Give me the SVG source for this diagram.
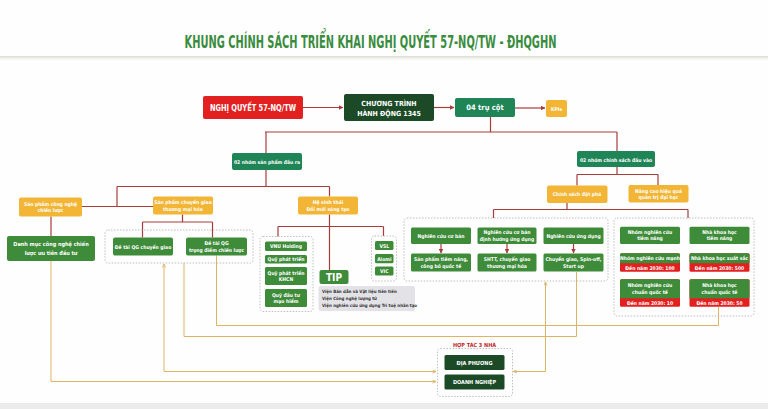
<svg xmlns="http://www.w3.org/2000/svg" width="768" height="409" viewBox="0 0 768 409">
<defs>
<linearGradient id="sep" x1="0" y1="0" x2="0" y2="1"><stop offset="0" stop-color="#d9d8cf"/><stop offset="1" stop-color="#ffffff" stop-opacity="0"/></linearGradient>
<marker id="ar" viewBox="0 0 6 6" refX="5.5" refY="3" markerWidth="4" markerHeight="4" orient="auto-start-reverse"><path d="M0,0 L6,3 L0,6 z" fill="#a63c3c"/></marker>
<marker id="at" viewBox="0 0 6 6" refX="5.5" refY="3" markerWidth="4" markerHeight="4" orient="auto-start-reverse"><path d="M0,0.5 L6,3 L0,5.5" fill="none" stroke="#dcb466" stroke-width="1.2"/></marker>
<style>
text{font-family:"Liberation Sans Narrow","DejaVu Sans Condensed","Liberation Sans",sans-serif;font-weight:bold;text-anchor:middle;fill:#fff}
.r{fill:none;stroke:#a63c3c;stroke-width:1.2}
.y{fill:none;stroke:#dcb466;stroke-width:1}
.org{fill:#f2b535}
.lg{fill:#3e8b3a}
.tg{fill:#1f8557}
.dg{fill:#1c4a27}
.rd{fill:#e2201f}
.dc{fill:none;stroke:#b9b9b9;stroke-width:0.9;stroke-dasharray:1.5 1.5}
.s5{font-size:5px}
.s55{font-size:5.5px}
.gt{fill:#333;text-anchor:start;font-size:4.4px}
</style>
</defs>
<rect width="768" height="409" fill="#fefefe"/>
<rect x="0" y="56" width="768" height="6" fill="url(#sep)"/>
<rect x="0" y="403" width="768" height="6" fill="#ebebeb"/>
<text x="370.5" y="48" font-size="17" textLength="372" lengthAdjust="spacingAndGlyphs" style="fill:#3a8c3f">KHUNG CHÍNH SÁCH TRIỂN KHAI NGHỊ QUYẾT 57-NQ/TW - ĐHQGHN</text>

<g id="connectors">
<path class="r" d="M303,107.5 H343" marker-end="url(#ar)"/>
<path class="r" d="M434,107.5 H454" marker-end="url(#ar)"/>
<path class="r" d="M515,108 H545" marker-end="url(#ar)"/>
<path class="r" d="M490.5,117 V132 M265,132 H617 M266,132 V153 M617,132 V151"/>
<path class="r" d="M266,170 V186.5 M117,186.5 H329.5 M117,186.5 V206.5 M82,206.5 H153 M329.5,186.5 V196.5"/>
<path class="r" d="M51,216.5 V236 M182.5,214.5 V222 M142.5,222 H212.5 M142.5,222 V237.5 M212.5,222 V237.5"/>
<path class="r" d="M329.5,214.5 V270 M278,226.5 H383.5 M278,226.5 V236.5 M383.5,226.5 V236"/>
<path class="r" d="M617,167 V174.5 M577,174.5 H658 M577,174.5 V185.5 M658,174.5 V185"/>
<path class="r" d="M567,203 V209.5 M493.5,209.5 H688 M493.5,209.5 V218 M688,209.5 V218"/>
<path class="r" d="M441,244 V253" marker-end="url(#ar)"/>
<path class="r" d="M507,244 V253" marker-end="url(#ar)"/>
<path class="r" d="M573.5,244 V253" marker-end="url(#ar)"/>
<path class="y" d="M51,261 V381.5 H436" marker-end="url(#at)"/>
<path class="y" d="M164,264 V371.5 H436" marker-start="url(#at)" marker-end="url(#at)"/>
<path class="y" d="M184,263 V336.5 H576.5 V272"/>
<path class="y" d="M216.5,255.5 V325.5 H718.5 V307"/>
<path class="y" d="M545.5,282 V371.5 H513.5" marker-start="url(#at)" marker-end="url(#at)"/>
</g>

<g id="nq"><rect class="rd" x="203" y="96" width="100" height="23" rx="2"/><text x="253" y="110.5" font-size="8.5" textLength="86" lengthAdjust="spacingAndGlyphs">NGHỊ QUYẾT 57-NQ/TW</text></g>
<g id="ctr"><rect class="dg" x="344" y="94" width="90" height="27" rx="2"/><text x="389" y="105.5" font-size="7">CHƯƠNG TRÌNH</text><text x="389" y="116" font-size="7">HÀNH ĐỘNG 1345</text></g>
<g id="trucot"><rect class="tg" x="455" y="98" width="60" height="19" rx="2"/><text x="485" y="110" font-size="7.5">04 trụ cột</text></g>
<g id="kpi"><rect class="org" x="546" y="100" width="21" height="17" rx="2"/><text x="556.5" y="110.5" class="s5">KPIs</text></g>

<g id="nhomsp"><rect class="tg" x="232" y="153" width="70" height="17" rx="2"/><text x="267" y="163.5" class="s5">02 nhóm sản phẩm đầu ra</text></g>
<g id="nhomcs"><rect class="tg" x="577" y="151" width="78" height="16" rx="2"/><text x="616" y="161.5" class="s5">02 nhóm chính sách đầu vào</text></g>

<g id="spcn"><rect class="org" x="19" y="197.5" width="63" height="19" rx="2"/><text x="50.5" y="205.5" class="s5">Sản phẩm công nghệ</text><text x="50.5" y="212" class="s5">chiến lược</text></g>
<g id="spcg"><rect class="org" x="153" y="196.5" width="60" height="18" rx="2"/><text x="183" y="204" class="s5">Sản phẩm chuyển giao</text><text x="183" y="210.5" class="s5">thương mại hóa</text></g>
<g id="hst"><rect class="org" x="298" y="196.5" width="60" height="18" rx="2"/><text x="328" y="204" class="s5">Hệ sinh thái</text><text x="328" y="210.5" class="s5">Đổi mới sáng tạo</text></g>
<g id="danhmuc"><rect class="lg" x="7" y="236" width="88" height="25" rx="2"/><text x="51" y="246" class="s55">Danh mục công nghệ chiến</text><text x="51" y="254.5" class="s55">lược ưu tiên đầu tư</text></g>

<g id="detai"><rect class="dc" x="105" y="230" width="148" height="33" rx="3"/>
<rect class="lg" x="113" y="237.5" width="60" height="18" rx="2"/><text x="143" y="248.5" class="s5">Đề tài QG chuyển giao</text>
<rect class="lg" x="186" y="237.5" width="61" height="18" rx="2"/><text x="216.5" y="245" class="s5">Đề tài QG</text><text x="216.5" y="251.5" class="s5">trọng điểm chiến lược</text></g>

<g id="quy"><rect class="dc" x="260" y="236.5" width="53" height="75" rx="3"/>
<rect class="lg" x="265" y="241.5" width="42" height="9.5" rx="1.5"/><text x="286" y="248.2" class="s5">VNU Holding</text>
<rect class="lg" x="265" y="255" width="42" height="8.5" rx="1.5"/><text x="286" y="261.2" class="s5">Quỹ phát triển</text>
<rect class="lg" x="265" y="267" width="42" height="18" rx="1.5"/><text x="286" y="274.5" class="s5">Quỹ phát triển</text><text x="286" y="281" class="s5">KHCN</text>
<rect class="lg" x="265" y="289" width="42" height="18" rx="1.5"/><text x="286" y="296.5" class="s5">Quỹ đầu tư</text><text x="286" y="303" class="s5">mạo hiểm</text></g>

<g id="vsl"><rect class="dc" x="371.5" y="236" width="25" height="45" rx="3"/>
<rect class="lg" x="375" y="241" width="18.5" height="9" rx="1.5"/><text x="384.3" y="247.5" class="s5">VSL</text>
<rect class="lg" x="375" y="254" width="18.5" height="9.3" rx="1.5"/><text x="384.3" y="260.5" class="s5">Aiomi</text>
<rect class="lg" x="375" y="266.5" width="18.5" height="9" rx="1.5"/><text x="384.3" y="273" class="s5">VIC</text></g>

<g id="tip"><rect class="lg" x="319.5" y="270" width="29" height="14" rx="2"/><text x="334" y="281" font-size="10">TIP</text>
<rect x="318.5" y="286" width="96.5" height="25" rx="2" fill="#e3e3e7"/>
<text x="322" y="292.5" class="gt">Viện Bán dẫn và Vật liệu tiên tiến</text>
<text x="322" y="299.5" class="gt">Viện Công nghệ lượng tử</text>
<text x="322" y="306.5" class="gt">Viện nghiên cứu ứng dụng Trí tuệ nhân tạo</text></g>

<g id="csdp"><rect class="org" x="547" y="185.5" width="60.5" height="17.5" rx="2"/><text x="577" y="196" class="s5">Chính sách đột phá</text></g>
<g id="nangcao"><rect class="org" x="628.5" y="185" width="60" height="17.5" rx="2"/><text x="658.5" y="192.5" class="s5">Nâng cao hiệu quả</text><text x="658.5" y="199" class="s5">quản trị đại học</text></g>

<g id="nghiencuu"><rect class="dc" x="404" y="218" width="204" height="63" rx="3"/>
<rect class="lg" x="411" y="227.5" width="60" height="16.5" rx="1.5"/><text x="441" y="237.5" class="s5">Nghiên cứu cơ bản</text>
<rect class="lg" x="477.5" y="227.5" width="59" height="16.5" rx="1.5"/><text x="507" y="234.3" class="s5">Nghiên cứu cơ bản</text><text x="507" y="240.8" class="s5">định hướng ứng dụng</text>
<rect class="lg" x="543.5" y="227.5" width="60" height="16.5" rx="1.5"/><text x="573.5" y="237.5" class="s5">Nghiên cứu ứng dụng</text>
<rect class="lg" x="411" y="253.5" width="60" height="18" rx="1.5"/><text x="441" y="261" class="s5">Sản phẩm tiềm năng,</text><text x="441" y="267.7" class="s5">công bố quốc tế</text>
<rect class="lg" x="477.5" y="253.5" width="59" height="18" rx="1.5"/><text x="507" y="261" class="s5">SHTT, chuyển giao</text><text x="507" y="267.7" class="s5">thương mại hóa</text>
<rect class="lg" x="543.5" y="253.5" width="60" height="18" rx="1.5"/><text x="573.5" y="261" class="s5">Chuyển giao, Spin-off,</text><text x="573.5" y="267.7" class="s5">Start up</text></g>

<g id="nhanluc"><rect class="dc" x="614" y="218" width="140" height="98" rx="3"/>
<rect class="lg" x="620" y="226.7" width="60" height="17.3" rx="1.5"/><text x="650" y="233.5" class="s5">Nhóm nghiên cứu</text><text x="650" y="240" class="s5">tiềm năng</text>
<rect class="lg" x="689.5" y="226.7" width="60" height="17.3" rx="1.5"/><text x="719.5" y="233.5" class="s5">Nhà khoa học</text><text x="719.5" y="240" class="s5">tiềm năng</text>
<rect class="rd" x="620" y="253.3" width="60" height="18.4" rx="1.5"/><rect class="lg" x="620" y="253.3" width="60" height="10" rx="1.5"/><text x="650" y="260" class="s5">Nhóm nghiên cứu mạnh</text><text x="650" y="269.7" class="s5">Đến năm 2030: 100</text>
<rect class="rd" x="689.5" y="253.3" width="60" height="18.4" rx="1.5"/><rect class="lg" x="689.5" y="253.3" width="60" height="10" rx="1.5"/><text x="719.5" y="260" class="s5">Nhà khoa học xuất sắc</text><text x="719.5" y="269.7" class="s5">Đến năm 2030: 500</text>
<rect class="rd" x="620" y="279.3" width="60" height="27.4" rx="1.5"/><rect class="lg" x="620" y="279.3" width="60" height="19" rx="1.5"/><text x="650" y="287" class="s5">Nhóm nghiên cứu</text><text x="650" y="293.5" class="s5">chuẩn quốc tế</text><text x="650" y="304.8" class="s5">Đến năm 2030: 10</text>
<rect class="rd" x="689.5" y="279.3" width="60" height="27.4" rx="1.5"/><rect class="lg" x="689.5" y="279.3" width="60" height="19" rx="1.5"/><text x="719.5" y="287" class="s5">Nhà khoa học</text><text x="719.5" y="293.5" class="s5">chuẩn quốc tế</text><text x="719.5" y="304.8" class="s5">Đến năm 2030: 50</text></g>

<g id="hoptac"><text x="474.5" y="346.5" class="s55" style="fill:#c0282b">HỢP TÁC 3 NHÀ</text>
<rect class="dc" x="437.5" y="348.5" width="75" height="48" rx="3"/>
<rect class="dg" x="444.5" y="355" width="60" height="15" rx="1.5"/><text x="474.5" y="364.7" class="s55">ĐỊA PHƯƠNG</text>
<rect class="dg" x="444.5" y="374.5" width="60" height="15" rx="1.5"/><text x="474.5" y="384.2" class="s55">DOANH NGHIỆP</text></g>
</svg>
